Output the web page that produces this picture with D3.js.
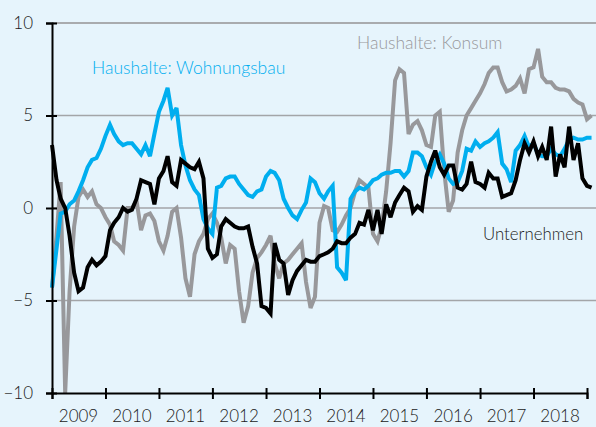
<!DOCTYPE html>
<html>
<head>
<meta charset="utf-8">
<script src="https://cdn.jsdelivr.net/npm/d3@7"></script>
<style>
  html, body { margin: 0; padding: 0; background: #e6f4fc; }
  svg { display: block; }
  text { font-family: Lato, "Noto Sans", sans-serif; font-weight: 300; }
</style>
</head>
<body>
<svg id="chart" width="596" height="427"></svg>
<script>
// monthly values, starting January 2009
const startYear = 2009
const unternehmen = [
  3.4, 1.5, 0.5, 0.0, -1.5, -3.5, -4.5, -4.3, -3.2, -2.8, -3.1, -2.9,
  -2.6, -1.2, -0.8, -0.5, 0.0, -0.2, -0.1, 0.5, 1.5, 1.4, 1.3, 0.2,
  1.6, 2.0, 2.8, 1.4, 1.2, 2.6, 2.4, 2.2, 2.1, 2.5, 1.6, -2.2,
  -2.7, -2.5, -1.0, -0.6, -0.8, -1.0, -1.1, -1.1, -1.0, -2.1, -3.0, -5.3,
  -5.4, -5.7, -1.9, -2.8, -3.0, -4.7, -3.9, -3.4, -3.1, -2.8, -2.9, -2.9,
  -2.6, -2.5, -2.4, -2.2, -1.8, -1.9, -1.9, -1.6, -1.4, -0.8, -0.9, -0.1,
  -1.2, -0.1, -1.4, 0.2, -0.5, 0.3, 0.7, 1.1, 0.9, -0.2, 0.1, -0.1,
  1.7, 2.5, 3.1, 2.2, 1.8, 2.3, 2.3, 1.1, 1.0, 1.3, 2.5, 1.4,
  1.3, 1.1, 1.9, 1.6, 1.6, 0.6, 0.7, 0.8, 1.5, 2.6, 3.5, 3.0,
  3.6, 2.8, 3.3, 2.6, 4.4, 1.7, 2.9, 2.2, 4.4, 2.6, 3.5, 1.6,
  1.2, 1.1
]
const wohnungsbau = [
  -4.3, -2.2, -0.3, -0.2, 0.2, 0.4, 0.9, 1.5, 2.2, 2.6, 2.7, 3.2,
  3.9, 4.5, 4.0, 3.6, 3.4, 3.5, 3.5, 3.2, 2.9, 3.4, 2.8, 4.0,
  5.2, 5.8, 6.5, 5.0, 5.4, 3.4, 2.3, 1.5, 1.0, 0.7, -0.6, -1.1,
  -1.4, 1.1, 1.2, 1.6, 1.7, 1.7, 1.3, 1.0, 0.7, 0.6, 0.9, 1.0,
  1.7, 2.0, 1.9, 1.5, 0.5, 0.0, -0.4, -0.6, -0.1, 0.3, 1.6, 1.4,
  0.8, 0.5, 0.9, 1.2, -3.2, -3.5, -3.9, 0.5, 0.9, 1.1, 1.0, 1.2,
  1.5, 1.6, 1.8, 1.9, 1.9, 2.0, 2.0, 1.7, 2.0, 3.0, 3.0, 2.8,
  2.2, 1.8, 2.5, 2.9, 2.4, 1.6, 1.3, 1.4, 2.0, 3.2, 3.1, 3.6,
  3.3, 3.5, 3.6, 3.8, 4.1, 2.4, 2.1, 1.4, 3.1, 3.4, 3.9, 3.3,
  3.5, 2.9, 2.8, 2.8, 3.2, 2.9, 2.8, 3.2, 3.7, 3.8, 3.7, 3.7,
  3.8, 3.8
]
const konsum = [
  -4.3, -1.5, 1.4, -10.0, -4.5, -1.0, 0.6, 1.0, 0.6, 0.9, 0.2, 0.0,
  -0.5, -0.9, -1.8, -2.0, -2.3, 0.0, 0.0, 0.4, -1.2, -0.4, -0.3, -0.7,
  -1.8, -2.3, -1.5, -0.2, 0.0, -1.6, -3.8, -4.8, -2.5, -1.8, -1.4, -0.6,
  -0.3, -0.8, -1.6, -3.0, -2.0, -2.2, -4.5, -6.2, -5.3, -3.5, -2.7, -2.4,
  -2.0, -1.5, -3.0, -3.8, -3.0, -2.8, -2.5, -2.2, -1.9, -4.0, -5.4, -4.8,
  -0.8, 0.1, 0.0, -1.2, -1.3, -0.9, -0.4, 0.0, 0.9, 1.5, 1.3, 1.1,
  -1.4, -1.8, -1.0, 0.9, 3.5, 6.9, 7.5, 7.3, 4.0, 4.5, 4.7, 4.2,
  3.4, 3.3, 5.0, 5.2, 2.0, -0.2, 0.4, 3.0, 4.2, 5.0, 5.4, 5.8,
  6.2, 6.7, 7.3, 7.6, 7.6, 6.8, 6.3, 6.4, 6.6, 7.0, 6.2, 7.5,
  7.6, 8.6, 7.1, 6.8, 6.8, 6.5, 6.4, 6.4, 6.3, 5.9, 5.7, 5.6,
  4.8, 5.0
]
const yTicks = [-10, -5, 0, 5, 10]
const yearLabels = ["2009", "2010", "2011", "2012", "2013", "2014", "2015", "2016", "2017", "2018"]

const svg = d3.select("#chart")
const width = +svg.attr("width")

const x = d3.scaleTime()
  .domain([new Date(startYear, 0, 1), new Date(startYear + 10, 0, 1)])
  .range([52, 587])
const y = d3.scaleLinear().domain([-10, 10]).range([393, 23])

const toPoints = arr => arr.map((v, i) => ({date: new Date(startYear, i, 1), value: v}))

// grid lines
svg.append("g")
  .selectAll("line")
  .data(yTicks.filter(d => d > -10))
  .join("line")
  .attr("x1", 52)
  .attr("x2", width)
  .attr("y1", d => y(d))
  .attr("y2", d => y(d))
  .attr("stroke", d => d === 10 ? "#a9abae" : "#a3a5a8")
  .attr("stroke-width", d => d === 10 ? 2 : 1.4)

const line = d3.line()
  .x(d => x(d.date))
  .y(d => y(d.value))

const series = [
  {data: konsum, color: "#98989b"},
  {data: wohnungsbau, color: "#00aeef"},
  {data: unternehmen, color: "#000000"}
]
svg.append("g")
  .selectAll("path")
  .data(series)
  .join("path")
  .attr("d", d => line(toPoints(d.data)))
  .attr("fill", "none")
  .attr("stroke", d => d.color)
  .attr("stroke-width", 4)
  .attr("stroke-linejoin", "miter")
  .attr("stroke-miterlimit", 3)

// y axis
const yAxis = svg.append("g")
  .attr("transform", "translate(52,0)")
  .call(d3.axisLeft(y).tickValues(yTicks).tickSize(6).tickPadding(13))
yAxis.select(".domain").attr("stroke", "#000").attr("stroke-width", 2)
yAxis.selectAll(".tick line").attr("x1", 5).attr("stroke-width", 2)
yAxis.selectAll(".tick text")
  .style("font-size", "17px")
  .attr("fill", "#1a1a1a")

// x axis
const xAxis = svg.append("g")
  .attr("transform", "translate(0,393)")
  .call(d3.axisBottom(x).ticks(d3.timeYear.every(1)).tickSize(6).tickFormat(""))
xAxis.select(".domain").attr("stroke", "#000").attr("stroke-width", 2)
xAxis.selectAll(".tick line").attr("y1", -5).attr("stroke-width", 2)

svg.append("g")
  .selectAll("text")
  .data(yearLabels)
  .join("text")
  .attr("x", d => x(new Date(+d, 6, 1)))
  .attr("y", 422)
  .attr("text-anchor", "middle")
  .attr("fill", "#1a1a1a")
  .style("font-size", "17px")
  .text(d => d)

// series labels
const labels = [
  {text: "Haushalte: Wohnungsbau", x: 92, y: 74, size: 17.5, color: "#00aeef"},
  {text: "Haushalte: Konsum", x: 357, y: 49, size: 17.5, color: "#98989b"},
  {text: "Unternehmen", x: 483, y: 240, size: 16.8, color: "#1a1a1a"}
]
svg.append("g")
  .selectAll("text")
  .data(labels)
  .join("text")
  .attr("x", d => d.x)
  .attr("y", d => d.y)
  .attr("fill", d => d.color)
  .style("font-size", d => d.size + "px")
  .text(d => d.text)
</script>
</body>
</html>
